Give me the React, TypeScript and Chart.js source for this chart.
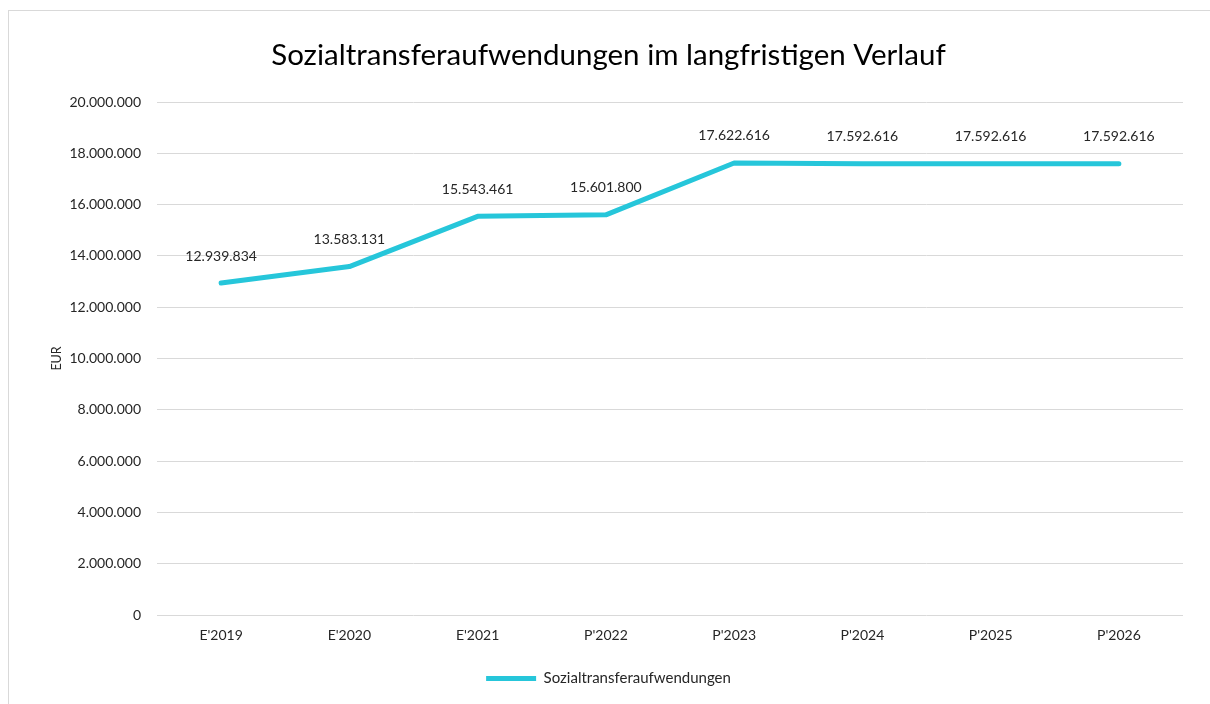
import React, { useEffect, useRef } from "react";
import { Chart, registerables } from "chart.js";

Chart.register(...registerables);

const categories = ["E'2019", "E'2020", "E'2021", "P'2022", "P'2023", "P'2024", "P'2025", "P'2026"];
const values = [12939834, 13583131, 15543461, 15601800, 17622616, 17592616, 17592616, 17592616];
const seriesName = "Sozialtransferaufwendungen";
const chartTitle = "Sozialtransferaufwendungen im langfristigen Verlauf";
const yAxisTitle = "EUR";
const yMin = 0;
const yMax = 20000000;
const yStep = 2000000;

const FONT = "Lato, 'Open Sans', sans-serif";
const LINE_COLOR = "#26C6DA";

function fmt(n: number): string {
  return Math.round(n).toString().replace(/\B(?=(\d{3})+(?!\d))/g, ".");
}

const dataLabelPlugin = {
  id: "dataLabels",
  afterDatasetsDraw(chart: any) {
    const ctx = chart.ctx;
    const meta = chart.getDatasetMeta(0);
    ctx.save();
    ctx.font = `14px ${FONT}`;
    ctx.fillStyle = "#262626";
    ctx.textAlign = "center";
    ctx.textBaseline = "middle";
    meta.data.forEach((pt: any, i: number) => {
      ctx.fillText(fmt(values[i]), pt.x, pt.y - 27);
    });
    ctx.restore();
  },
};

export default function App() {
  const ref = useRef<HTMLCanvasElement | null>(null);
  useEffect(() => {
    if (!ref.current) return;
    const chart = new Chart(ref.current, {
      type: "line",
      data: {
        labels: categories,
        datasets: [
          {
            label: seriesName,
            data: values,
            borderColor: LINE_COLOR,
            backgroundColor: LINE_COLOR,
            borderWidth: 5,
            borderCapStyle: "round",
            borderJoinStyle: "round",
            pointRadius: 0,
            pointHoverRadius: 0,
            tension: 0,
            fill: false,
          },
        ],
      },
      options: {
        animation: false,
        responsive: false,
        maintainAspectRatio: false,
        layout: { padding: { left: 34, right: 27, top: 0, bottom: 8 } },
        plugins: {
          title: {
            display: true,
            text: chartTitle,
            color: "#000000",
            font: { family: FONT, size: 29.5, weight: "normal" },
            padding: { top: 38, bottom: 28.6 },
          },
          legend: {
            display: true,
            position: "bottom",
            labels: {
              usePointStyle: true,
              pointStyle: "line",
              pointStyleWidth: 50,
              color: "#262626",
              font: { family: FONT, size: 15 },
              padding: 10,
            },
          },
          tooltip: { enabled: false },
        },
        scales: {
          x: {
            type: "category",
            offset: true,
            grid: { display: false, drawTicks: false },
            border: { display: false },
            ticks: {
              color: "#262626",
              font: { family: FONT, size: 14 },
              padding: 12,
              maxRotation: 0,
            },
            afterFit(scale: any) {
              scale.height = 46;
            },
          },
          y: {
            min: yMin,
            max: yMax,
            grid: { color: "#d9d9d9", lineWidth: 1, drawTicks: false },
            border: { display: false },
            ticks: {
              stepSize: yStep,
              color: "#262626",
              font: { family: FONT, size: 14 },
              padding: 16,
              callback: (v: any) => fmt(Number(v)),
            },
            title: {
              display: true,
              text: yAxisTitle,
              color: "#262626",
              font: { family: FONT, size: 12.5 },
              padding: { top: 15, bottom: 0 },
            },
            afterFit(scale: any) {
              scale.width = 123;
            },
          },
        },
      },
      plugins: [dataLabelPlugin],
    });
    return () => chart.destroy();
  }, []);

  return (
    <div style={{ position: "absolute", left: 0, top: 0, width: 1210, height: 704, overflow: "hidden", background: "#fff" }}>
      <div style={{ position: "absolute", left: 8, top: 10, width: 1202, height: 1, background: "#d9d9d9" }} />
      <div style={{ position: "absolute", left: 8, top: 10, width: 1, height: 694, background: "#d9d9d9" }} />
      <canvas ref={ref} width={1210} height={704} style={{ position: "absolute", left: 0, top: 0 }} />
    </div>
  );
}
